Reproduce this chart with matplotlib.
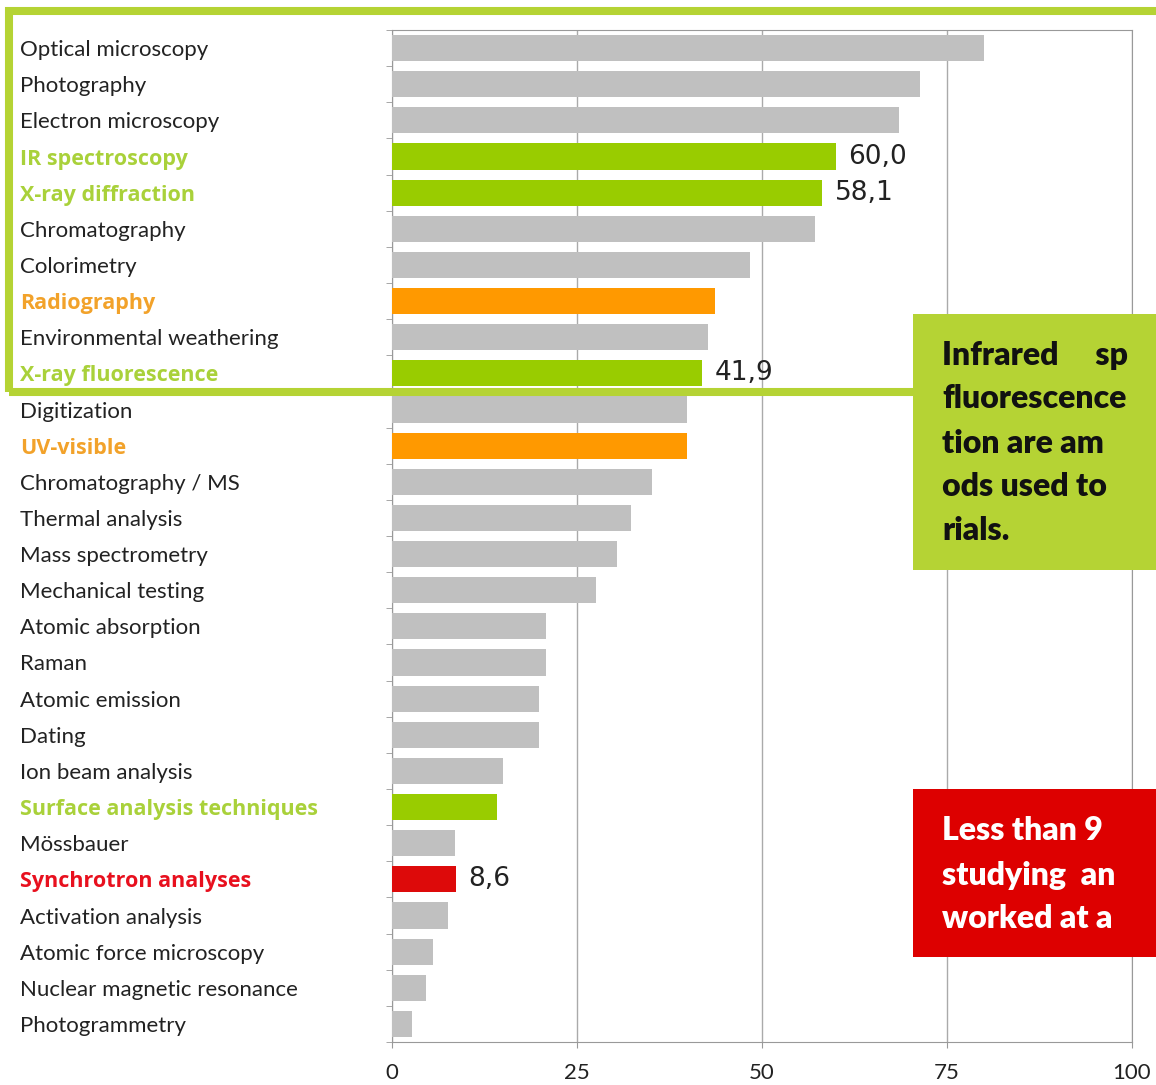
import numpy as np
import matplotlib
matplotlib.use('Agg')
import matplotlib.pyplot as plt
from matplotlib import patches

plt.rcParams['font.family'] = ['Lato', 'DejaVu Sans']

# データ（上から順）
techniques = ['Optical microscopy', 'Photography', 'Electron microscopy', 'IR spectroscopy',
              'X-ray diffraction', 'Chromatography', 'Colorimetry', 'Radiography',
              'Environmental weathering', 'X-ray fluorescence', 'Digitization', 'UV-visible',
              'Chromatography / MS', 'Thermal analysis', 'Mass spectrometry', 'Mechanical testing',
              'Atomic absorption', 'Raman', 'Atomic emission', 'Dating', 'Ion beam analysis',
              'Surface analysis techniques', 'Mössbauer', 'Synchrotron analyses',
              'Activation analysis', 'Atomic force microscopy', 'Nuclear magnetic resonance',
              'Photogrammetry']
values = [80.0, 71.3, 68.5, 60.0, 58.1, 57.1, 48.4, 43.6, 42.7, 41.9, 39.9, 39.9,
          35.1, 32.3, 30.4, 27.6, 20.8, 20.8, 19.9, 19.9, 15.0, 14.2, 8.5, 8.6,
          7.6, 5.5, 4.6, 2.7]
groups = ['n', 'n', 'n', 'g', 'g', 'n', 'n', 'o', 'n', 'g', 'n', 'o',
          'n', 'n', 'n', 'n', 'n', 'n', 'n', 'n', 'n', 'g', 'n', 'r',
          'n', 'n', 'n', 'n']
labelled = ['IR spectroscopy', 'X-ray diffraction', 'X-ray fluorescence', 'Synchrotron analyses']
xticks = [0, 25, 50, 75, 100]
# 右端で切れているコメント（見える部分のみ）
green_lines = ['Infrared     sp', 'fluorescence', 'tion are am', 'ods used to', 'rials.']
red_lines = ['Less than 9', 'studying  an', 'worked at a']

bar_colors = {'n': '#C0C0C0', 'g': '#99CC00', 'o': '#FF9900', 'r': '#DD0A0A'}
text_colors = {'n': '#222222', 'g': '#A9D13A', 'o': '#F2A22A', 'r': '#E8101E'}
frame_green = '#B5D334'

W, H = 1156, 1085
fig = plt.figure(figsize=(W / 100, H / 100), dpi=100)
ax = fig.add_axes([392 / W, 1 - 1042 / H, 740 / W, 1012 / H])

y = np.arange(len(techniques))
ax.barh(y, values, height=0.72, color=[bar_colors[g] for g in groups], zorder=3)

ax.set_xlim(0, 100)
ax.set_ylim(len(techniques) - 0.5, -0.5)
ax.set_xticks(xticks)
ax.set_xticklabels([str(t) for t in xticks], fontsize=16, color='#222222')
ax.tick_params(axis='x', length=4, color='#999999', pad=11)
ax.xaxis.grid(True, color='#AAAAAA', lw=1, zorder=0)

ax.set_yticks(y)
ax.set_yticklabels(techniques, fontsize=16)
for lbl, g in zip(ax.get_yticklabels(), groups):
    lbl.set_horizontalalignment('left')
    lbl.set_color(text_colors[g])
    if g != 'n':
        lbl.set_family(['Open Sans', 'DejaVu Sans'])
        lbl.set_fontweight('bold')
        lbl.set_fontsize(15.5)
ax.tick_params(axis='y', length=0, pad=(392 - 20) * 0.72)
ax.set_yticks(np.arange(len(techniques) + 1) - 0.5, minor=True)
ax.tick_params(axis='y', which='minor', length=4, color='#999999')

for s in ax.spines.values():
    s.set_color('#999999')

# 値ラベル
for name in labelled:
    i = techniques.index(name)
    ax.text(values[i] + 1.7, i, f'{values[i]:.1f}'.replace('.', ','),
            va='center', ha='left', fontsize=19, color='#222222',
            family='DejaVu Sans', zorder=4)

# 緑の枠
frame = patches.Rectangle((9 / W, 1 - 392 / H), 1.2, (392 - 11) / H,
                          transform=fig.transFigure, fill=False,
                          edgecolor=frame_green, lw=5.8, zorder=10, clip_on=False)
fig.add_artist(frame)

# コメントボックス
box_green = patches.Rectangle((913 / W, 1 - 570 / H), 0.3, (570 - 314) / H,
                              transform=fig.transFigure, facecolor=frame_green,
                              edgecolor='none', zorder=11)
fig.add_artist(box_green)
for k, line in enumerate(green_lines):
    fig.text(942 / W, 1 - (355 + 44 * k) / H, line, fontsize=23, fontweight='heavy',
             color='#111111', va='center', ha='left', zorder=12)

box_red = patches.Rectangle((913 / W, 1 - 957 / H), 0.3, (957 - 789) / H,
                            transform=fig.transFigure, facecolor='#DD0000',
                            edgecolor='none', zorder=11)
fig.add_artist(box_red)
for k, line in enumerate(red_lines):
    fig.text(942 / W, 1 - (831 + 44 * k) / H, line, fontsize=23, fontweight='heavy',
             color='white', va='center', ha='left', zorder=12)

plt.savefig('out.png', dpi=100)
